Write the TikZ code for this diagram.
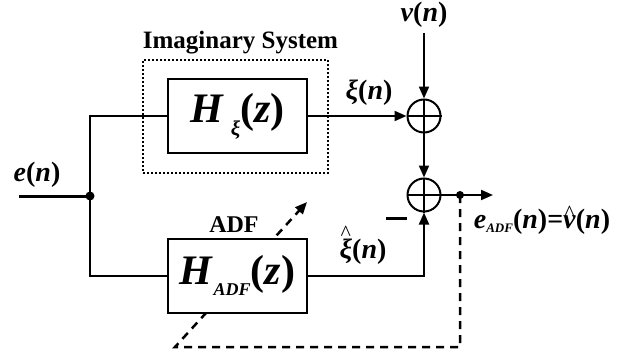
\documentclass[tikz,border=0pt]{standalone}
\usepackage{fontspec}
\setmainfont{Liberation Serif}
\usetikzlibrary{arrows.meta}
\newcommand\fsz[1]{\fontsize{#1}{#1}\selectfont}
\newcommand\bit[1]{\textbf{\textit{#1}}}
\newcommand\hatbelow[3]{\ooalign{#1\cr\hidewidth\raisebox{#2}{#3}\hidewidth\cr}}
\begin{document}
\begin{tikzpicture}[x=1pt,y=-1pt,line width=2pt,
  >={Triangle[length=12pt,width=10pt]},
  blockbox/.style={draw,fill=white,minimum width=139pt,minimum height=74pt,inner sep=0pt},
  sumnode/.style={draw,circle,minimum size=33pt,inner sep=0pt},
  lbl/.style={inner sep=0pt},
  dotbox/.style={draw,dash pattern=on 2pt off 2pt,minimum width=185pt,minimum height=113pt,inner sep=0pt},
  fbline/.style={line width=2.5pt,dash pattern=on 8pt off 6pt}]
\useasboundingbox (0,0) rectangle (634,353);

% coordinates
\coordinate (in) at (19,196);
\coordinate (j) at (90,196);
\coordinate (vtop) at (424,33);
\coordinate (tap) at (460,195);
\coordinate (out) at (493,195);
\coordinate (fb) at (175,347);
\coordinate (tip) at (307,202);

% dotted imaginary system box
\node[dotbox] (imag) at (235.5,116.5) {};
\node[lbl] (imaglbl) at (240.5,43) {\fsz{25}\bfseries Imaginary System};

% feedback dashed line (under the ADF box)
\draw[fbline,->] (tap) |- (fb) -- (tip);

% blocks
\node[blockbox] (hx) at (237.5,116) {\fsz{42}\bit{H}\,\raisebox{-13pt}{\fsz{21}\bit{ξ}}\textbf{(}\bit{z}\textbf{)}};
\node[blockbox] (hadf) at (237.5,275.5) {\fsz{42}\bit{H}\raisebox{-11pt}{\fsz{18}\bit{ADF}}\textbf{(}\bit{z}\textbf{)}};
\node[lbl] (adflbl) at (234,225) {\fsz{24}\bfseries ADF};

% summing junctions
\node[sumnode] (s1) at (424,116) {};
\node[sumnode] (s2) at (424,195) {};
\foreach \s in {s1,s2}{
  \draw (\s.north) -- (\s.south);
  \draw (\s.west) -- (\s.east);
}

% connectors
\draw[line width=3pt] (in) -- (j);
\draw (j) |- (hx.west);
\draw (j) |- (hadf.west);
\fill (j) circle (4.5pt);
\draw[->] (hx.east) -- (s1.west);
\draw[->] (vtop) -- (s1.north);
\draw[->] (s1.south) -- (s2.north);
\draw[->] (hadf.east) -| (s2.south);
\draw[->] (s2.east) -- (out);
\fill (tap) circle (4pt);

% minus sign
\node[lbl] (minus) at (396.5,218) {\rule{21pt}{3pt}};

% labels
\node[lbl] (elbl) at (37,175) {\fsz{28}\bit{e}\textbf{(}\bit{n}\textbf{)}};
\node[lbl] (vlbl) at (424,15) {\fsz{28}\bit{v}\textbf{(}\bit{n}\textbf{)}};
\node[lbl,anchor=base] (xilbl) at (369,99) {\fsz{28}\bit{ξ}\textbf{(}\bit{n}\textbf{)}};
\node[lbl,anchor=base] (xihatlbl) at (363,258) {\fsz{28}\hatbelow{\bit{ξ}}{0.62em}{\fsz{22}\textasciicircum}\textbf{(}\bit{n}\textbf{)}};
\node[lbl] (outlbl) at (542,222) {\fsz{28}\bit{e}\raisebox{-4pt}{\fsz{13}\bit{ADF}}\textbf{(}\bit{n}\textbf{)=}\hatbelow{\bit{v}}{0.3em}{\fsz{22}\textasciicircum}\textbf{(}\bit{n}\textbf{)}};
\end{tikzpicture}
\end{document}
